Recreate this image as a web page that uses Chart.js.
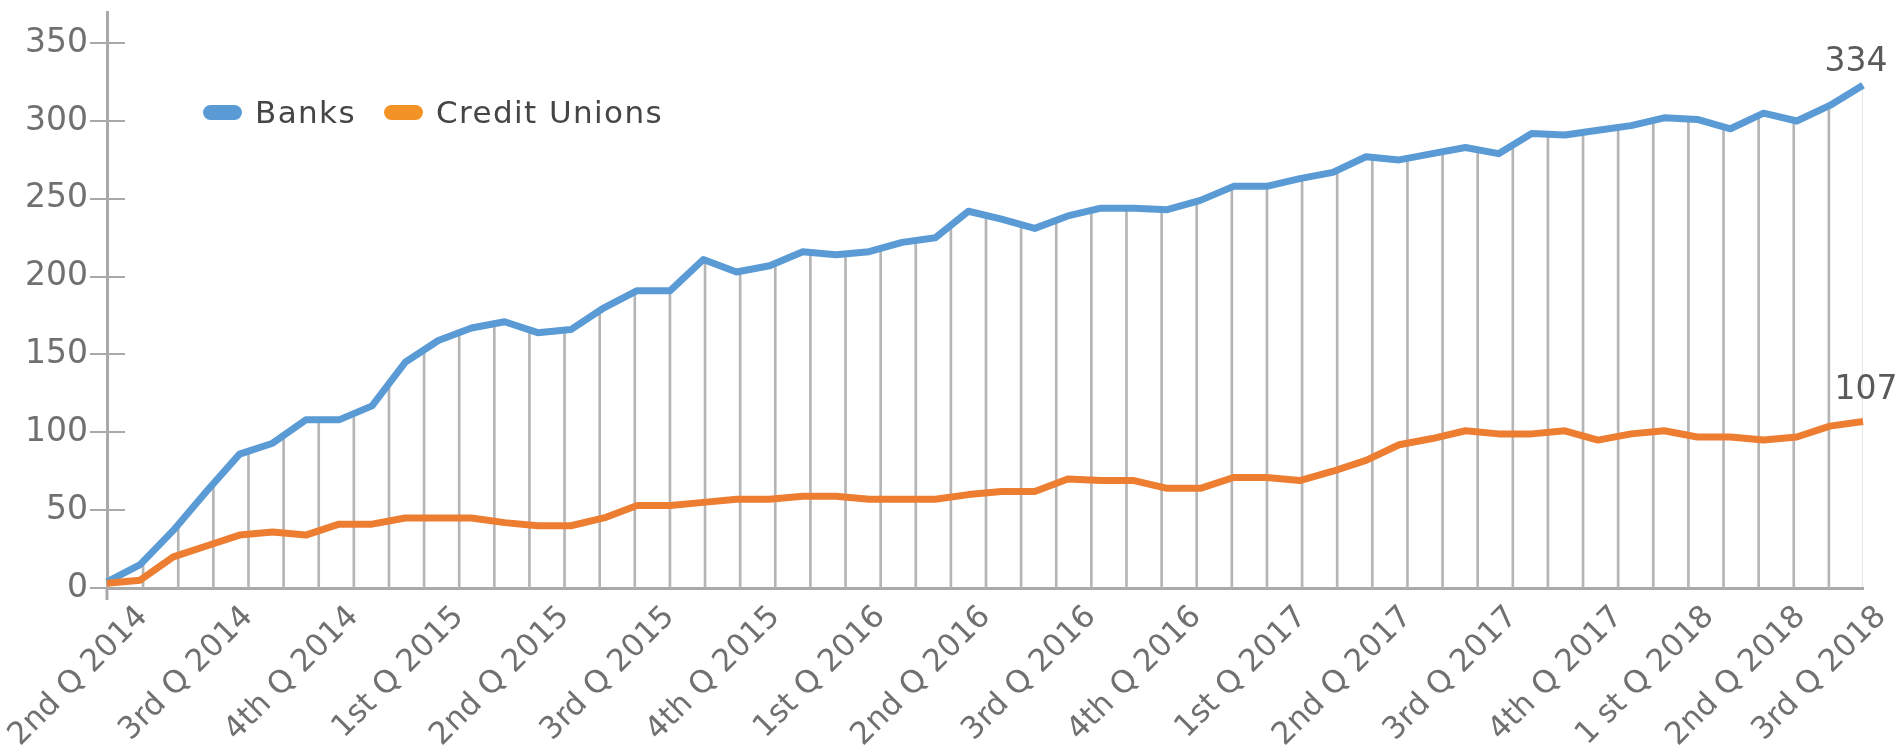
<!DOCTYPE html>
<html>
<head>
<meta charset="utf-8">
<title>Banks vs Credit Unions</title>
<script src="https://cdn.jsdelivr.net/npm/chart.js@4/dist/chart.umd.min.js"></script>
<style>
  html, body { margin: 0; padding: 0; background: #fff; }
  #wrap { position: relative; width: 1897px; height: 756px; }
  #legend {
    position: absolute; left: 203px; top: 93px; line-height: 38px;
    display: flex; align-items: center;
    font-family: "DejaVu Sans", sans-serif; font-size: 31px; color: #454545;
    letter-spacing: 1.4px;
  }
  #legend .item { display: flex; align-items: center; margin-right: 28px; }
  #legend .swatch { width: 39px; height: 15px; border-radius: 8px; margin-right: 13px; }
</style>
</head>
<body>
<div id="wrap">
  <canvas id="chart" width="1897" height="756"></canvas>
  <div id="legend"></div>
</div>
<script>
// quarter tick labels and where (in drop-line slots) each one sits
const quarterLabels = [
  "2nd Q 2014", "3rd Q 2014", "4th Q 2014",
  "1st Q 2015", "2nd Q 2015", "3rd Q 2015", "4th Q 2015",
  "1st Q 2016", "2nd Q 2016", "3rd Q 2016", "4th Q 2016",
  "1st Q 2017", "2nd Q 2017", "3rd Q 2017", "4th Q 2017",
  "1 st Q 2018", "2nd Q 2018", "3rd Q 2018"
];
const quarterSlots = [0, 3, 6, 9, 12, 15, 18, 21, 24, 27, 30, 33, 36, 39, 42, 44.6, 47.2, 49.5];

// monthly values (54 points)
const banks = [
  4, 15, 37, 62, 86, 93, 108, 108, 117, 145, 159, 167, 171, 164, 166, 180, 191, 191,
  211, 203, 207, 216, 214, 216, 222, 225, 242, 237, 231, 239, 244, 244, 243, 249, 258, 258,
  263, 267, 277, 275, 279, 283, 279, 292, 291, 294, 297, 302, 301, 295, 305, 300, 310, 323
];
const creditUnions = [
  3, 5, 20, 27, 34, 36, 34, 41, 41, 45, 45, 45, 42, 40, 40, 45, 53, 53,
  55, 57, 57, 59, 59, 57, 57, 57, 60, 62, 62, 70, 69, 69, 64, 64, 71, 71,
  69, 75, 82, 92, 96, 101, 99, 99, 101, 95, 99, 101, 97, 97, 95, 97, 104, 107
];

// heights of the grey vertical drop lines (51 of them)
const dropLines = [
  5, 18, 41, 68, 88, 98, 108, 112, 132, 153, 164, 170, 166, 166, 178, 190, 191,
  211, 203, 208, 216, 215, 218, 223, 233, 240, 234, 236, 242, 244, 243, 248, 257,
  258, 263, 268, 277, 276, 280, 282, 284, 292, 292, 296, 300, 301, 297, 303, 301, 309, 323
];

const endLabels = ["334", "107"];
const yTicks = [0, 50, 100, 150, 200, 250, 300, 350];

const FONT = "'DejaVu Sans', sans-serif";
const GREY = "#707070";
const AXIS = "#a9a9a9";

const months = banks.map((_, i) => "m" + i);

// short tick marks crossing the y axis
const yTickMarks = {
  id: "yTickMarks",
  beforeDatasetsDraw(chart) {
    const { ctx, chartArea, scales } = chart;
    ctx.save();
    ctx.strokeStyle = AXIS;
    ctx.lineWidth = 2;
    yTicks.forEach(v => {
      const py = Math.round(scales.y.getPixelForValue(v));
      ctx.beginPath();
      ctx.moveTo(chartArea.left - 17, py);
      ctx.lineTo(chartArea.left + 18, py);
      ctx.stroke();
    });
    ctx.beginPath();
    ctx.moveTo(chartArea.left, chartArea.bottom);
    ctx.lineTo(chartArea.left, chartArea.bottom + 12);
    ctx.lineWidth = 3;
    ctx.stroke();
    ctx.restore();
  }
};

// value labels at the end of each line
const lastValues = {
  id: "lastValues",
  afterDatasetsDraw(chart) {
    const { ctx } = chart;
    ctx.save();
    ctx.font = "33px " + FONT;
    ctx.fillStyle = "#5a5a5a";
    ctx.textAlign = "center";
    ctx.textBaseline = "bottom";
    [[0, -7, -6], [1, 3, -15]].forEach(([di, dx, dy]) => {
      const pts = chart.getDatasetMeta(di).data;
      const p = pts[pts.length - 1];
      ctx.fillText(endLabels[di], p.x + dx, p.y + dy);
    });
    ctx.restore();
  }
};

const chart = new Chart(document.getElementById("chart"), {
  type: "line",
  data: {
    datasets: [
      {
        label: "Banks", data: banks, xAxisID: "xm",
        borderColor: "#5B9BD5", backgroundColor: "#5B9BD5",
        borderWidth: 7, pointRadius: 0, borderJoinStyle: "round", order: 2
      },
      {
        label: "Credit Unions", data: creditUnions, xAxisID: "xm",
        borderColor: "#ED7D31", backgroundColor: "#F39325",
        borderWidth: 7, pointRadius: 0, borderJoinStyle: "round", order: 1
      },
      {
        type: "bar", label: "drop", xAxisID: "x",
        data: dropLines.map((h, i) => ({ x: i, y: h })),
        backgroundColor: "#b5b5b5", barThickness: 2, order: 3
      }
    ]
  },
  options: {
    responsive: false,
    animation: false,
    layout: { padding: { left: 0, right: 34, top: 12, bottom: 0 } },
    plugins: {
      legend: { display: false },
      tooltip: { enabled: false }
    },
    scales: {
      x: {
        type: "linear", min: 0, max: dropLines.length - 1, offset: false, position: "bottom",
        afterBuildTicks(scale) { scale.ticks = quarterSlots.map(v => ({ value: v })); },
        grid: { display: false, drawTicks: false },
        border: { display: true, color: AXIS, width: 3 },
        ticks: {
          autoSkip: false, maxRotation: 45, minRotation: 45,
          padding: 11, labelOffset: 36,
          color: GREY, font: { family: FONT, size: 31 },
          callback: v => quarterLabels[quarterSlots.indexOf(v)]
        },
        afterFit(scale) {
          scale.height = 168;
          scale.paddingLeft = 0;
          scale.paddingRight = 0;
        }
      },
      xm: { type: "category", labels: months, offset: false, display: false },
      y: {
        min: 0, max: 370,
        afterBuildTicks(scale) { scale.ticks = yTicks.map(v => ({ value: v })); },
        grid: { display: false, drawTicks: false },
        border: { display: true, color: AXIS, width: 3 },
        ticks: { padding: 19, color: GREY, font: { family: FONT, size: 33 } },
        afterFit(scale) {
          scale.width = 107;
          scale.paddingTop = 0;
          scale.paddingBottom = 0;
        }
      }
    }
  },
  plugins: [yTickMarks, lastValues]
});

// legend built from the line datasets
const legendEl = document.getElementById("legend");
chart.data.datasets.filter(ds => ds.type !== "bar").forEach(ds => {
  const item = document.createElement("div");
  item.className = "item";
  const sw = document.createElement("span");
  sw.className = "swatch";
  sw.style.background = ds.backgroundColor;
  const txt = document.createElement("span");
  txt.textContent = ds.label;
  item.appendChild(sw);
  item.appendChild(txt);
  legendEl.appendChild(item);
});
</script>
</body>
</html>
